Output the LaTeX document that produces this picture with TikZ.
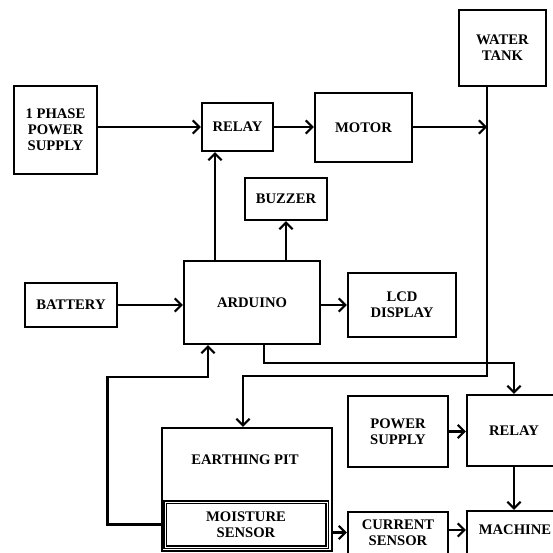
\documentclass[tikz,border=0pt]{standalone}
\usepackage{fontspec}
\setmainfont{Liberation Serif}
\usetikzlibrary{calc,arrows.meta,positioning}

\begin{document}
\begin{tikzpicture}[x=0.03cm,y=-0.03cm,
    box/.style={draw,line width=1.8pt,inner sep=2pt,
                font=\bfseries\fontsize{12.5}{13.8}\selectfont,align=center},
    frame/.style={draw,line width=1.8pt,inner sep=0pt},
    txt/.style={font=\bfseries\fontsize{12.5}{13.8}\selectfont,align=center},
    arr/.style={-{Straight Barb[length=2mm,width=4mm]},line width=1.8pt},
]

\useasboundingbox (0,0) rectangle (553,553);

% ---- Upper row ----------------------------------------------------------
\node[box,minimum width=2.49cm,minimum height=2.64cm] (phase) at (55.5,130)
    {1 PHASE\\POWER\\SUPPLY};
\node[box,minimum width=2.13cm,minimum height=1.44cm] (relay1) at (237.5,127)
    {RELAY};
\node[box,minimum width=2.91cm,minimum height=2.07cm] (motor) at (363.5,127.5)
    {MOTOR};
\node[box,minimum width=2.61cm,minimum height=2.28cm] (tank) at (502.5,48)
    {WATER\\TANK};

% ---- Controller ---------------------------------------------------------
\node[box,minimum width=2.46cm,minimum height=1.26cm] (buzzer) at (286,199)
    {BUZZER};
\node[box,minimum width=4.08cm,minimum height=2.49cm] (ard) at (252,302.5)
    {ARDUINO};
\node[box,minimum width=2.76cm,minimum height=1.32cm] (bat) at (71,305)
    {BATTERY};
\node[box,minimum width=3.24cm,minimum height=1.92cm] (lcd) at (402,305)
    {LCD\\DISPLAY};

% ---- Lower part ---------------------------------------------------------
\node[box,minimum width=3.0cm,minimum height=2.13cm] (pow) at (398,431.5)
    {POWER\\SUPPLY};
\node[box,minimum width=2.82cm,minimum height=2.13cm] (relay2) at (514,430.5)
    {RELAY};

\node[frame,minimum width=5.1cm,minimum height=3.69cm] (pit) at (247,489.5) {};
\node[txt] (pittxt) at (245,460) {EARTHING PIT};
\node[box,line width=0.9pt,double,double distance=0.8pt,
      minimum width=4.86cm,minimum height=1.35cm] (moist) at (246,524.5)
    {MOISTURE\\SENSOR};

\node[frame,minimum width=3.0cm,minimum height=1.89cm] (cur) at (398,543.5) {};
\node[txt] (curtxt) at (398,532.5) {CURRENT\\SENSOR};
\node[frame,minimum width=2.88cm,minimum height=1.92cm] (mach) at (515,543) {};
\node[txt] (machtxt) at (515,530) {MACHINE};

% ---- Arrows -------------------------------------------------------------
\coordinate (tk) at (487,127);
\coordinate (tb) at (243,376);

\draw[arr] (phase.east |- relay1) -- (relay1.west);
\draw[arr] (relay1.east) -- (relay1.east -| motor.west);
\draw[arr] (motor.east |- tk) -- (tk);
\draw[arr] (tank.south -| tk) |- (tb) -- (tb |- pit.north);

\draw[arr] ($(ard.north)+(-37,0)$) -- ($(relay1.south)+(-22.5,0)$);
\draw[arr] (buzzer.south |- ard.north) -- (buzzer.south);
\draw[arr] (bat.east) -- (bat.east -| ard.west);
\draw[arr] (ard.east |- lcd.west) -- (lcd.west);
\draw[arr] ($(ard.south)+(12,0)$) |- ($(relay2.north)+(0,-31)$) -- (relay2.north);

% moisture feedback
\draw[arr] (moist.west) -- ++(-57,0) |- ($(ard.south)+(-44,32)$)
    -- ($(ard.south)+(-44,0)$);
\draw[arr] (pit.east |- curtxt) -- (cur.west |- curtxt);

\draw[arr] (pow.east) -- (pow.east -| relay2.west);
\draw[arr] (relay2.south) -- (relay2.south |- mach.north);
\draw[arr] (cur.east |- machtxt) -- (mach.west |- machtxt);

\end{tikzpicture}
\end{document}
